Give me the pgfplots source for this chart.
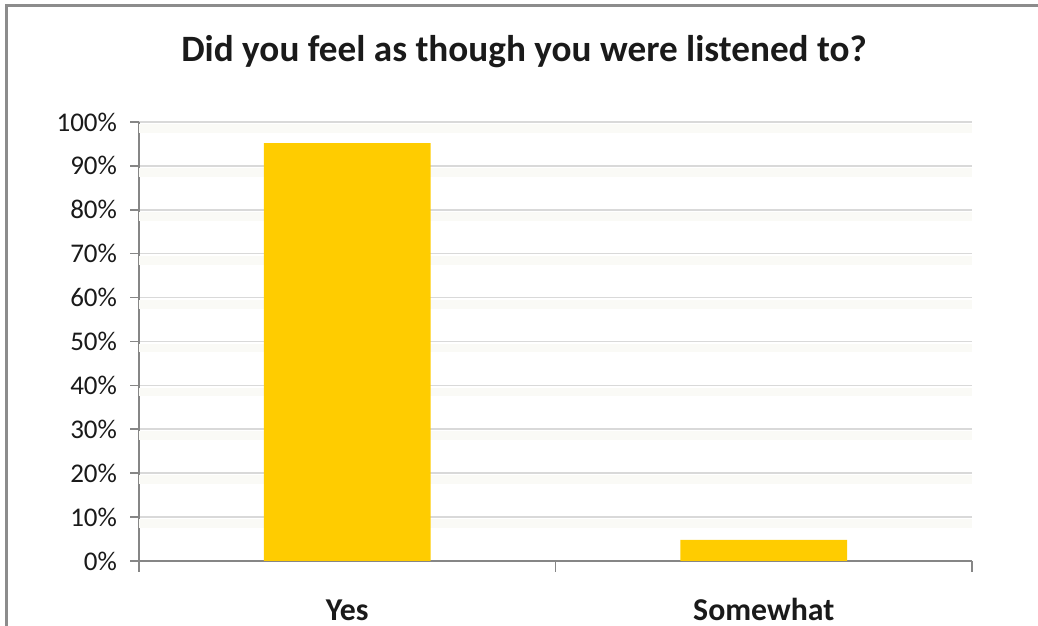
\documentclass[border=0pt]{standalone}
\usepackage{pgfplots}
\pgfplotsset{compat=1.18}
\usepackage{fontspec}
\setmainfont{Carlito}
\definecolor{bargold}{HTML}{FFCC00}
\definecolor{gridgray}{HTML}{D9D9D9}
\definecolor{axgray}{HTML}{868686}
\definecolor{bandcol}{HTML}{FAFAF6}
\definecolor{framegray}{HTML}{8C8C8C}
\definecolor{txt}{HTML}{1A1A1A}
\begin{document}
\begin{tikzpicture}
\begin{axis}[
  at={(69.5pt,32.5pt)}, anchor=south west,
  scale only axis, width=416.5pt, height=219.5pt,
  xmin=-0.5, xmax=1.5, ymin=0, ymax=100,
  axis x line*=bottom, axis y line*=left,
  axis line style={axgray, line width=0.8pt},
  ytick={0,10,...,100},
  yticklabel={\pgfmathprintnumber{\tick}\%},
  /pgf/number format/assume math mode=true,
  yticklabel style={font=\fontsize{13.5}{16}\selectfont, text=txt, xshift=-3pt},
  ymajorgrids, grid style={gridgray, line width=0.8pt},
  ytick style={axgray, line width=0.8pt},
  tick align=outside, major tick length=4.5pt,
  xtick={0,1}, xticklabels={Yes,Somewhat},
  xtick style={draw=none},
  xticklabel style={font=\bfseries\fontsize{15.9}{19}\selectfont, text=txt, text height=0.72em, text depth=0.2em, yshift=-14.5pt},
  extra x ticks={-0.5,0.5,1.5}, extra x tick labels={},
  extra x tick style={grid=none, xtick style={axgray, line width=0.8pt, draw=axgray}, major tick length=5.5pt, tick align=outside},
  ybar, bar width=83.3pt,
  clip=false,
]
\pgfplotsinvokeforeach{10,20,...,100}{
  \fill[bandcol] (axis cs:-0.5,#1-0.5) rectangle (axis cs:1.5,#1-2.5);
}
\addplot[fill=bargold, draw=none] coordinates {(0,95.2) (1,4.8)};
\end{axis}
\node[font=\bfseries\fontsize{18.6}{22}\selectfont, text=txt] at (262pt,287pt) {Did you feel as though you were listened to?};
\draw[framegray, line width=1.5pt] (3pt,-2pt) -- (3pt,310pt) -- (521pt,310pt);
\pgfresetboundingbox
\useasboundingbox (0,0) rectangle (519pt,313pt);
\end{tikzpicture}
\end{document}
